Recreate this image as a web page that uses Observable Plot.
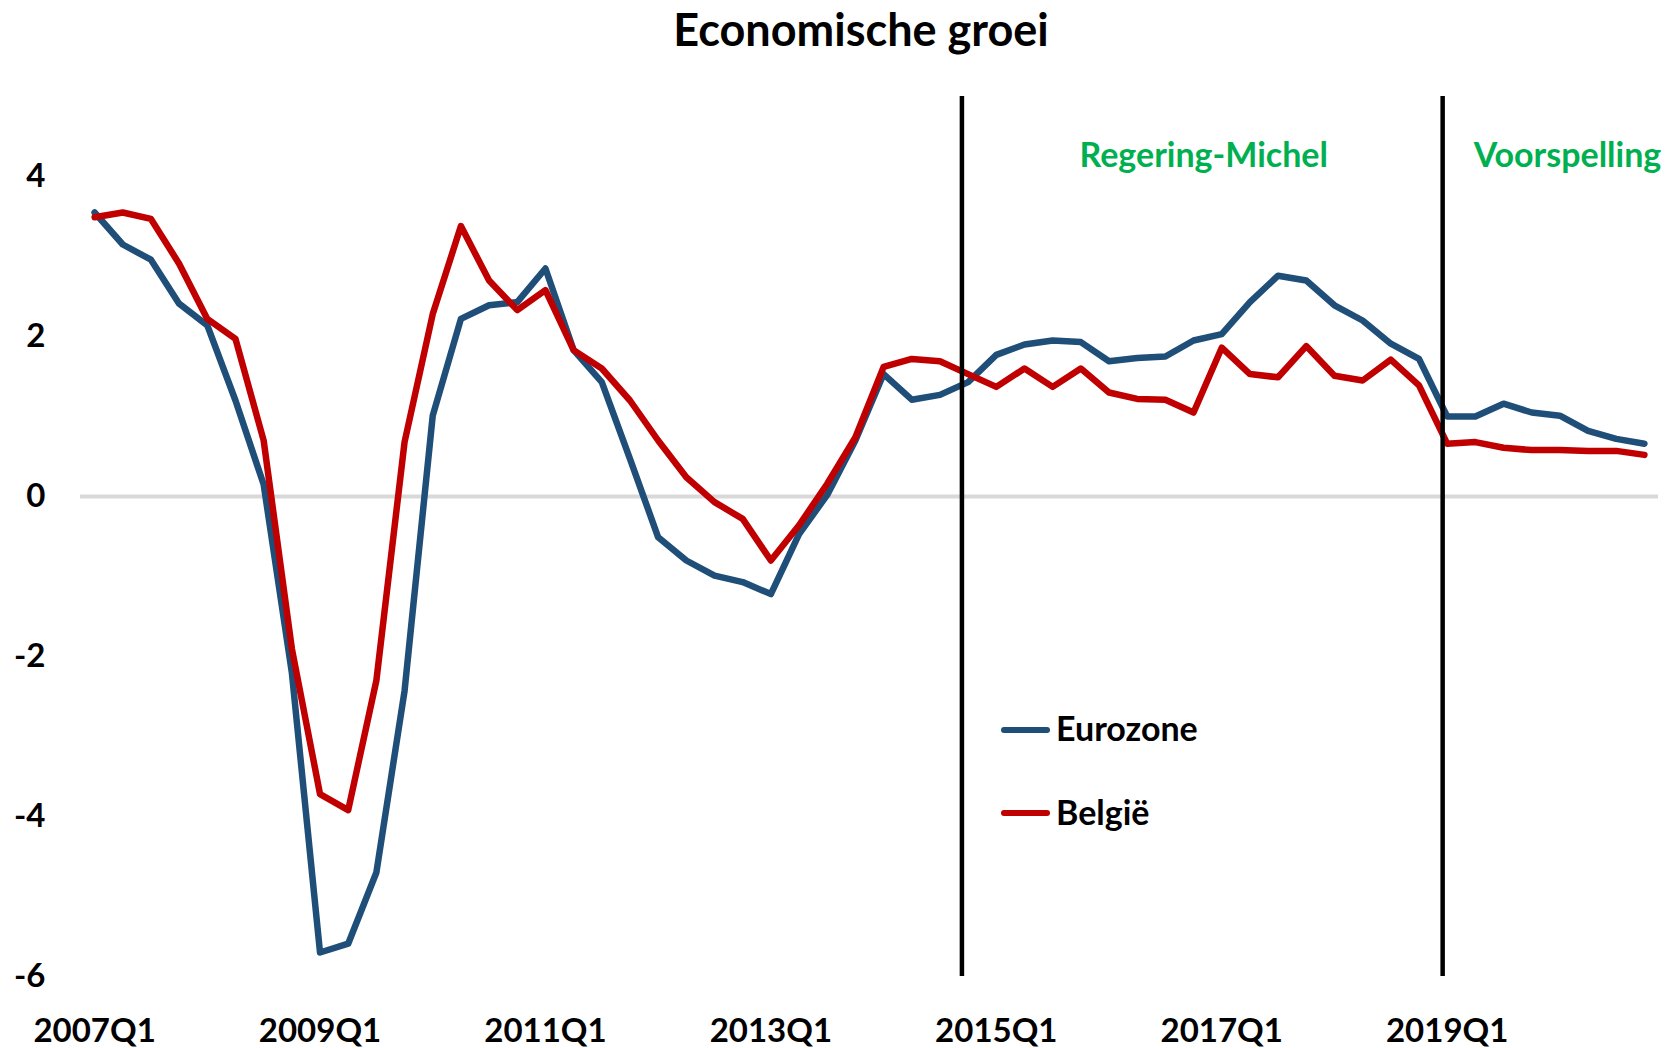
<!DOCTYPE html>
<html>
<head>
<meta charset="utf-8">
<script src="https://cdn.jsdelivr.net/npm/d3@7"></script>
<script src="https://cdn.jsdelivr.net/npm/@observablehq/plot@0.6"></script>
<style>
  body { margin: 0; background: #fff; }
  #wrap { position: relative; width: 1672px; height: 1048px; overflow: hidden; font-family: Lato, "Open Sans", sans-serif; font-weight: 700; }
  #title { position: relative; height: 60px; }
  #title span { position: absolute; left: 861px; transform: translateX(-50%); top: 0; font-size: 45px; line-height: 58px; white-space: nowrap; color: #000; }
  .sw { position: absolute; height: 6px; border-radius: 3px; width: 49px; left: 1001px; }
  .lt { position: absolute; left: 1056px; font-size: 34px; line-height: 34px; white-space: nowrap; color: #000; }
</style>
</head>
<body>
<div id="wrap">
  <div id="title"><span>Economische groei</span></div>
  <div id="chart"></div>
  <div class="sw" style="top:727px;background:#1F4E79"></div>
  <div class="lt" style="top:711px">Eurozone</div>
  <div class="sw" style="top:810px;background:#C00000"></div>
  <div class="lt" style="top:795px">België</div>
</div>
<script>
// ---- data ----
const years = [2007, 2008, 2009, 2010, 2011, 2012, 2013, 2014, 2015, 2016, 2017, 2018, 2019, 2020];
const quarterNames = ["Q1", "Q2", "Q3", "Q4"];
const quarters = years.flatMap(y => quarterNames.map(q => `${y}${q}`));

const eurozone = [3.55, 3.15, 2.96, 2.41, 2.14, 1.2, 0.15, -2.2, -5.7, -5.59,
  -4.7, -2.43, 1.01, 2.22, 2.39, 2.43, 2.85, 1.83, 1.43, 0.47,
  -0.51, -0.8, -0.99, -1.07, -1.22, -0.47, 0.02, 0.7, 1.53, 1.21,
  1.27, 1.43, 1.77, 1.9, 1.95, 1.93, 1.69, 1.73, 1.75, 1.95,
  2.03, 2.43, 2.76, 2.7, 2.39, 2.2, 1.91, 1.72, 1.0, 1.0,
  1.16, 1.05, 1.01, 0.82, 0.72, 0.66];

const belgie = [3.49, 3.55, 3.47, 2.91, 2.22, 1.97, 0.7, -1.9, -3.72, -3.92,
  -2.3, 0.68, 2.28, 3.38, 2.7, 2.33, 2.58, 1.83, 1.6, 1.2,
  0.7, 0.24, -0.07, -0.28, -0.8, -0.36, 0.16, 0.74, 1.62, 1.72,
  1.69, 1.53, 1.37, 1.6, 1.37, 1.6, 1.30, 1.22, 1.21, 1.05,
  1.86, 1.53, 1.49, 1.88, 1.51, 1.45, 1.71, 1.39, 0.66, 0.68,
  0.61, 0.58, 0.58, 0.57, 0.57, 0.52];

const xTickLabels = ["2007Q1", "2009Q1", "2011Q1", "2013Q1", "2015Q1", "2017Q1", "2019Q1"];
const yTicks = [-6, -4, -2, 0, 2, 4];

// vertical period markers (quarter index)
const periodLines = [30.78, 47.84];
const periodLabels = ["Regering-Michel", "Voorspelling"];
const periodLabelX = [39.36, 52.27];
const periodLabelY = [4.26, 4.26];

// ---- build ----
const rows = quarters.map((q, i) => ({ i, q, eurozone: eurozone[i], belgie: belgie[i] }));
const xTicks = xTickLabels.map(l => quarters.indexOf(l));
const annotations = periodLabels.map((t, k) => ({ t, x: periodLabelX[k], y: periodLabelY[k] }));

const chart = Plot.plot({
  width: 1672,
  height: 988,
  marginLeft: 80,
  marginRight: 14,
  marginTop: 36,
  marginBottom: 72,
  style: { fontFamily: "Lato, 'Open Sans', sans-serif", fontWeight: "bold", fontSize: "33px", color: "#000", background: "#fff" },
  x: { domain: [-0.5, 55.5] },
  y: { domain: [-6, 5] },
  marks: [
    Plot.ruleY([0], { stroke: "#D9D9D9", strokeWidth: 4 }),
    Plot.line(rows, { x: "i", y: "eurozone", stroke: "#1F4E79", strokeWidth: 6.5, strokeLinejoin: "round", strokeLinecap: "round" }),
    Plot.line(rows, { x: "i", y: "belgie", stroke: "#C00000", strokeWidth: 6.5, strokeLinejoin: "round", strokeLinecap: "round" }),
    Plot.ruleX(periodLines, { stroke: "#000", strokeWidth: 4.5 }),
    Plot.text(annotations, { x: "x", y: "y", text: "t", fill: "#00B050", fontSize: 34, fontWeight: "bold" }),
    Plot.axisX({ ticks: xTicks, tickFormat: i => quarters[i], tickSize: 0, tickPadding: 42, label: null, fill: "#000" }),
    Plot.axisY({ ticks: yTicks, tickFormat: d => String(d), tickSize: 0, tickPadding: 35, label: null, fill: "#000" })
  ]
});
document.getElementById("chart").appendChild(chart);
</script>
</body>
</html>
